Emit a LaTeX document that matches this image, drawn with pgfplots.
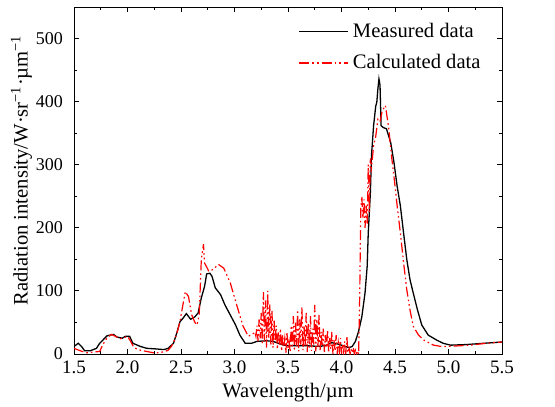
\documentclass[border=0pt]{standalone}
\usepackage{fontspec}
\setmainfont{Liberation Serif}
\usepackage{pgfplots}
\pgfplotsset{compat=1.18}

\begin{document}
\begin{tikzpicture}
\begin{axis}[
    scale only axis,
    width=214pt, height=173.5pt,
    xmin=1.5, xmax=5.5, ymin=0, ymax=550,
    xtick={1.5,2.0,...,5.5},
    ytick={0,100,...,500},
    minor x tick num=1, minor y tick num=1,
    tick align=inside,
    major tick length=2.5pt, minor tick length=1.5pt,
    axis line style={line width=0.5pt},
    every tick/.style={black, line width=0.5pt},
    /pgf/number format/assume math mode=true,
    xticklabel style={font=\fontsize{9.5}{10}\selectfont,
        /pgf/number format/.cd, fixed, fixed zerofill, precision=1},
    yticklabel style={font=\fontsize{9}{10}\selectfont, xshift=-2pt},
    xlabel={Wavelength/µm},
    ylabel={Radiation intensity/W·sr\textsuperscript{−1}·µm\textsuperscript{−1}},
    label style={font=\fontsize{10.3}{12}\selectfont},
    xlabel style={at={(axis description cs:0.5,-0.112)}, anchor=center},
    ylabel style={at={(axis description cs:-0.123,0.53)}, anchor=center},
    legend style={draw=none, fill=none, at={(0.51,0.978)}, anchor=north west,
        font=\fontsize{10.3}{12}\selectfont, row sep=3pt},
    legend cell align=left,
    legend image code/.code={\draw[#1] (0pt,0pt) -- (24.5pt,0pt);},
]
\addplot[black, line width=0.65pt] coordinates {
(1.50,12)(1.54,17)(1.57,12)(1.60,5)(1.65,5)(1.71,9)(1.74,17)(1.81,29)(1.87,31)(1.90,27)
(1.95,25)(1.98,28)(2.02,28)(2.05,17)(2.12,12)(2.18,9)(2.27,8)(2.34,7)(2.38,9)(2.43,17)
(2.46,33)(2.49,51)(2.52,57)(2.55,64)(2.59,55)(2.63,59)(2.66,65)(2.69,89)(2.72,107)(2.74,127)
(2.77,128)(2.79,123)(2.82,105)(2.87,94)(2.91,78)(2.96,62)(3.01,46)(3.05,30)(3.10,17)(3.16,17)
(3.21,20)(3.30,21)(3.36,20)(3.46,14)(3.55,13)(3.68,13)(3.80,12)(3.86,14)(3.91,18)(3.96,16)
(4.02,13)(4.07,10)(4.10,12)(4.13,20)(4.16,36)(4.19,59)(4.22,97)(4.24,139)(4.25,192)(4.27,256)
(4.28,314)(4.30,362)(4.32,393)(4.33,399)(4.34,420)(4.35,436)(4.36,426)(4.37,362)(4.39,359)(4.42,357)
(4.46,335)(4.49,304)(4.52,266)(4.55,235)(4.58,192)(4.61,150)(4.64,118)(4.67,97)(4.71,70)(4.75,46)
(4.81,30)(4.89,22)(4.95,17)(5.02,14)(5.17,15)(5.33,17)(5.50,19)
};
\addlegendentry{Measured data}
\addplot[red, line width=0.6pt,
    dash pattern=on 5pt off 1.5pt on 0.8pt off 1.5pt on 0.8pt off 1.5pt] coordinates {
(1.50,9)(1.56,5)(1.62,2)(1.68,3)(1.74,4)(1.77,15)(1.81,26)(1.85,31)(1.90,27)(1.93,24)
(1.97,26)(2.00,28)(2.03,20)(2.06,10)(2.12,6)(2.18,4)(2.24,2)(2.30,2)(2.35,4)(2.38,6)
(2.41,12)(2.44,22)(2.47,38)(2.49,51)(2.52,80)(2.54,99)(2.57,91)(2.60,62)(2.63,50)(2.65,46)
(2.67,62)(2.69,150)(2.71,174)(2.72,144)(2.74,138)(2.76,131)(2.80,134)(2.85,142)(2.90,136)(2.96,113)
(3.02,78)(3.08,44)(3.13,28)(3.18,33)
(3.19,35)(3.20,28)(3.21,45)(3.22,20)(3.23,55)(3.24,25)(3.25,65)(3.26,15)(3.27,98)(3.28,20)
(3.29,85)(3.30,10)(3.31,100)(3.32,25)(3.33,80)(3.34,15)(3.35,70)(3.36,10)(3.37,55)(3.38,20)
(3.39,45)(3.40,8)(3.41,35)(3.42,15)(3.43,40)(3.44,5)(3.45,30)(3.46,12)(3.47,25)(3.48,2)
(3.49,35)(3.50,8)(3.51,20)(3.52,3)(3.53,45)(3.54,10)(3.55,60)(3.56,5)(3.57,50)(3.58,12)
(3.59,70)(3.60,4)(3.61,55)(3.62,15)(3.63,75)(3.64,6)(3.65,45)(3.66,12)(3.67,65)(3.68,3)
(3.69,50)(3.70,10)(3.71,60)(3.72,5)(3.73,40)(3.74,15)(3.75,78)(3.76,4)(3.77,55)(3.78,10)
(3.79,62)(3.80,6)(3.81,35)(3.82,12)(3.83,40)(3.84,3)(3.85,30)(3.86,10)(3.87,38)(3.88,2)
(3.89,25)(3.90,8)(3.91,35)(3.92,0)(3.93,22)(3.94,5)(3.95,30)(3.96,0)(3.97,18)(3.98,4)
(3.99,25)(4.00,0)(4.01,15)(4.02,3)(4.03,20)(4.04,0)(4.05,28)(4.06,2)(4.07,12)(4.08,0)
(4.09,8)(4.10,2)(4.11,10)(4.12,0)(4.13,6)(4.14,1)(4.15,5)(4.16,0)
(4.17,90)(4.18,230)(4.19,250)(4.20,215)(4.21,245)(4.22,200)(4.23,235)(4.24,205)(4.25,300)(4.26,225)
(4.27,310)(4.28,295)(4.30,330)(4.32,345)(4.34,372)(4.36,368)(4.38,385)(4.41,394)(4.44,360)(4.47,310)
(4.49,282)(4.52,235)(4.55,192)(4.58,145)(4.61,102)(4.64,70)(4.67,44)(4.72,30)(4.77,22)(4.86,14)
(4.93,12)(4.99,12)(5.10,13)(5.20,14)(5.35,17)(5.50,19)
};
\addlegendentry{Calculated data}
\end{axis}
\pgfresetboundingbox
\path (current axis.south west) ++(-37pt,-26pt) rectangle ([shift={(26.5pt,3.5pt)}]current axis.north east);
\end{tikzpicture}
\end{document}
